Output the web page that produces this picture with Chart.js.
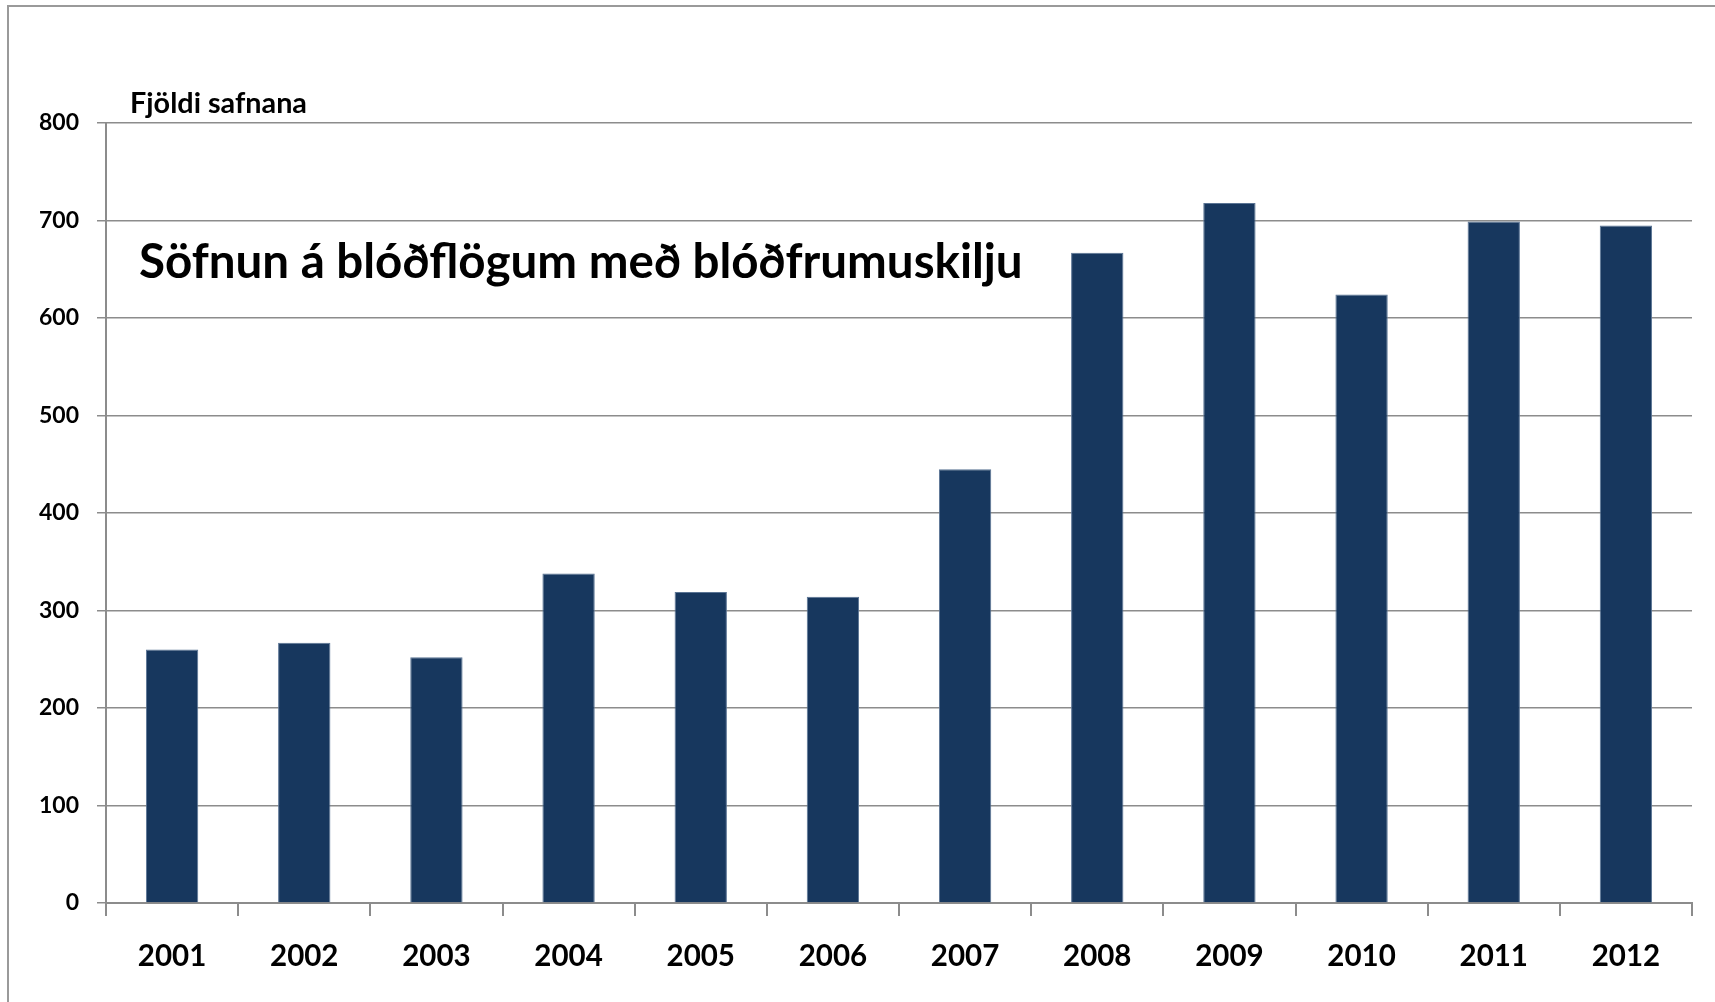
<!DOCTYPE html>
<html>
<head>
<meta charset="utf-8">
<script src="https://cdn.jsdelivr.net/npm/chart.js@4.4.0/dist/chart.umd.min.js"></script>
<style>
  html, body { margin: 0; padding: 0; background: #ffffff; }
  #wrap { position: relative; width: 1715px; height: 1002px; }
</style>
</head>
<body>
<div id="wrap"><canvas id="c" width="1715" height="1002"></canvas></div>
<script>
const categories = ['2001','2002','2003','2004','2005','2006','2007','2008','2009','2010','2011','2012'];
const collections = [260, 267, 252, 338, 319, 314, 445, 667, 718, 624, 699, 695];
const yTicks = [0, 100, 200, 300, 400, 500, 600, 700, 800];
const chartTitle = 'Söfnun á blóðflögum með blóðfrumuskilju';
const yAxisTitle = 'Fjöldi safnana';

const FONT = 'Lato';
const GRID = '#8c8c8c';

const decor = {
  id: 'decor',
  beforeDraw(chart) {
    const ctx = chart.ctx;
    ctx.save();
    ctx.strokeStyle = '#9a9a9a';
    ctx.lineWidth = 2;
    ctx.beginPath();
    ctx.moveTo(8, 1002);
    ctx.lineTo(8, 6);
    ctx.lineTo(1715, 6);
    ctx.stroke();
    ctx.restore();
  },
  afterDraw(chart) {
    const ctx = chart.ctx;
    const area = chart.chartArea;
    ctx.save();
    ctx.fillStyle = '#000000';
    ctx.textBaseline = 'alphabetic';
    ctx.textAlign = 'left';
    ctx.font = 'bold 27px ' + FONT;
    const tw = ctx.measureText(yAxisTitle).width;
    const tsize = 27 * 177 / tw;
    ctx.font = 'bold ' + tsize.toFixed(2) + 'px ' + FONT;
    ctx.fillText(yAxisTitle, area.left + 24, area.top - 10);
    ctx.font = 'bold 40px ' + FONT;
    const w = ctx.measureText(chartTitle).width;
    const size = 40 * 884 / w;
    ctx.font = 'bold ' + size.toFixed(2) + 'px ' + FONT;
    ctx.fillText(chartTitle, area.left + 33, 278);
    ctx.restore();
  }
};

function start() {
  new Chart(document.getElementById('c'), {
    type: 'bar',
    data: {
      labels: categories,
      datasets: [{
        data: collections,
        backgroundColor: '#17375E',
        borderColor: '#5a7494',
        borderWidth: 1,
        categoryPercentage: 1.0,
        barPercentage: 0.396
      }]
    },
    options: {
      responsive: false,
      animation: false,
      devicePixelRatio: 1,
      layout: { padding: { left: 0, right: 23, top: 123, bottom: 0 } },
      plugins: { legend: { display: false }, title: { display: false }, tooltip: { enabled: false } },
      scales: {
        x: {
          grid: { display: true, drawOnChartArea: false, drawTicks: true, tickLength: 13, offset: true, color: GRID, lineWidth: 2 },
          border: { display: true, color: GRID, width: 2 },
          ticks: { color: '#000', font: { family: FONT, weight: 'bold', size: 29.5 }, padding: 23, maxRotation: 0 },
          afterFit(s) { s.height = 99; }
        },
        y: {
          min: 0, max: 800,
          afterBuildTicks(s) { s.ticks = yTicks.map(v => ({ value: v })); },
          grid: { color: GRID, lineWidth: 1.5, tickLength: 9, drawTicks: true },
          border: { display: true, color: GRID, width: 2 },
          ticks: { color: '#000', font: { family: FONT, weight: 'bold', size: 23 }, padding: 18 },
          afterFit(s) { s.width = 106; }
        }
      }
    },
    plugins: [decor]
  });
}

if (document.fonts && document.fonts.load) {
  Promise.all([
    document.fonts.load('bold 24px Lato'),
    document.fonts.load('bold 40px Lato')
  ]).then(start, start);
} else {
  start();
}
</script>
</body>
</html>
